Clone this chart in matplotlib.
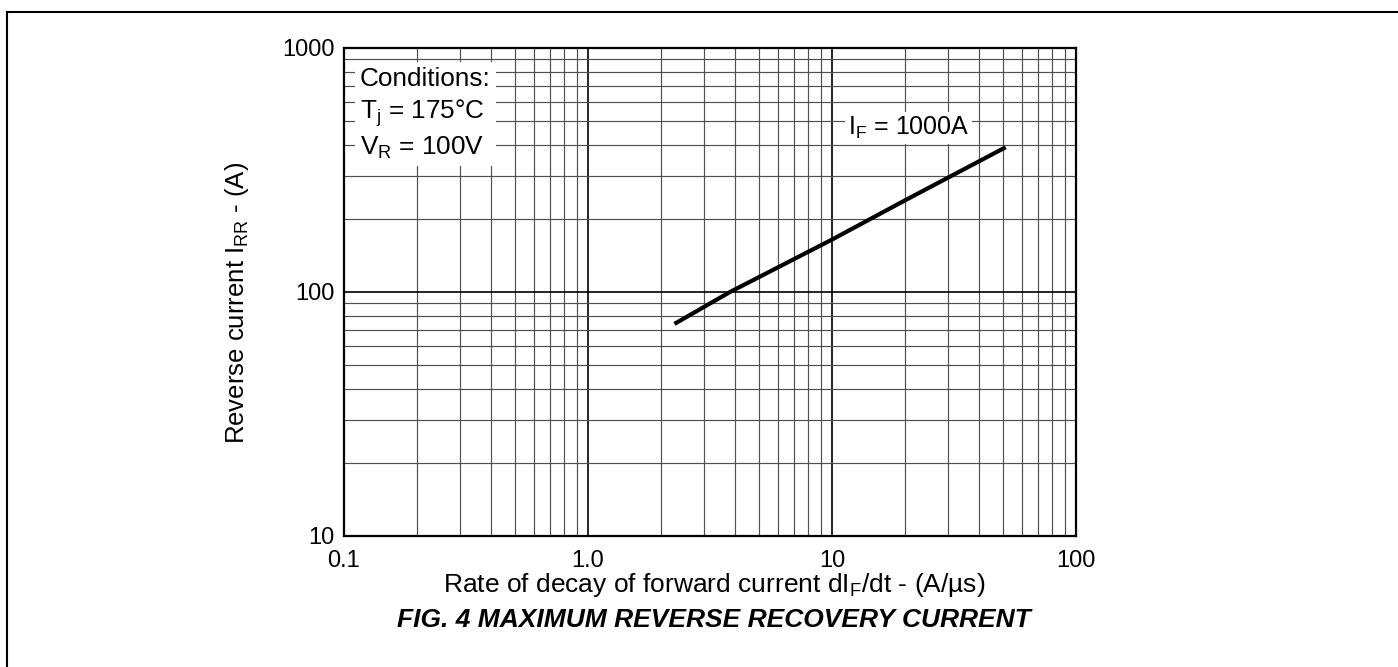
#!/usr/bin/env python

# plot.py
# Fig. 4 - maximum reverse recovery current vs dIF/dt
import numpy as np
import matplotlib
matplotlib.use('Agg')
import matplotlib.pyplot as plt
from matplotlib.lines import Line2D
from matplotlib.ticker import FixedLocator, FixedFormatter, LogLocator, NullFormatter

plt.rcParams['font.family'] = ['Liberation Sans', 'DejaVu Sans']
plt.rcParams['mathtext.fontset'] = 'custom'
plt.rcParams['mathtext.rm'] = 'Liberation Sans'
plt.rcParams['mathtext.it'] = 'Liberation Sans:italic'
plt.rcParams['mathtext.bf'] = 'Liberation Sans:bold'

# curve, IF = 1000A
didt = [2.26, 3.82, 10, 20, 51.5]
irr = [74, 100, 164, 238, 392]

x_ticks = [0.1, 1.0, 10, 100]
x_labels = ['0.1', '1.0', '10', '100']
y_ticks = [10, 100, 1000]
y_labels = ['10', '100', '1000']

fig = plt.figure(figsize=(13.98, 6.67), dpi=100)
ax = fig.add_axes([344/1398, 1 - 536/667, 732/1398, 488/667])

ax.set_xscale('log')
ax.set_yscale('log')
ax.set_xlim(0.1, 100)
ax.set_ylim(10, 1000)

ax.xaxis.set_major_locator(FixedLocator(x_ticks))
ax.xaxis.set_major_formatter(FixedFormatter(x_labels))
ax.yaxis.set_major_locator(FixedLocator(y_ticks))
ax.yaxis.set_major_formatter(FixedFormatter(y_labels))
ax.xaxis.set_minor_locator(LogLocator(base=10, subs=np.arange(2, 10)))
ax.yaxis.set_minor_locator(LogLocator(base=10, subs=np.arange(2, 10)))
ax.xaxis.set_minor_formatter(NullFormatter())
ax.yaxis.set_minor_formatter(NullFormatter())

ax.grid(which='major', color='black', lw=1.2)
ax.grid(which='minor', color='#505050', lw=0.85)
ax.set_axisbelow(True)

ax.tick_params(which='both', length=0, labelsize=17)
ax.tick_params(axis='y', pad=7)
ax.tick_params(axis='x', pad=10)
for s in ax.spines.values():
    s.set_linewidth(1.6)

ax.plot(didt, irr, c='black', lw=3, solid_capstyle='butt', zorder=3)

ax.text(11.6, 440, 'I$_\\mathregular{F}$ = 1000A', fontsize=18, va='baseline', ha='left',
        bbox=dict(fc='white', ec='none', pad=2), zorder=4)

ax.text(0.022, 0.962, 'Conditions:\nT$_\\mathregular{j}$ = 175\u00b0C\nV$_\\mathregular{R}$ = 100V',
        transform=ax.transAxes, fontsize=18.8, va='top', ha='left', linespacing=1.3,
        bbox=dict(fc='white', ec='none', pad=4), zorder=4)

ax.set_xlabel('Rate of decay of forward current dI$_\\mathregular{F}$/dt - (A/\u00b5s)', fontsize=19)
ax.xaxis.set_label_coords(714/1398, 1 - 571/667, transform=fig.transFigure)
ax.set_ylabel('Reverse current I$_\\mathregular{RR}$ - (A)', fontsize=18.5)
ax.yaxis.set_label_coords(237/1398, 1 - 303/667, transform=fig.transFigure)
ax.yaxis.label.set_va('center')

fig.text(714/1398, 1 - 620/667, 'FIG. 4 MAXIMUM REVERSE RECOVERY CURRENT', fontsize=19,
         fontweight='bold', fontstyle='italic', ha='center', va='center')

# page frame, only left and top edges fall inside the picture
fig.add_artist(Line2D([7/1398, 7/1398], [1 - 12/667, -0.1], transform=fig.transFigure, c='black', lw=1.5))
fig.add_artist(Line2D([7/1398, 1.1], [1 - 12/667, 1 - 12/667], transform=fig.transFigure, c='black', lw=1.5))

fig.savefig('out.png', dpi=100)
